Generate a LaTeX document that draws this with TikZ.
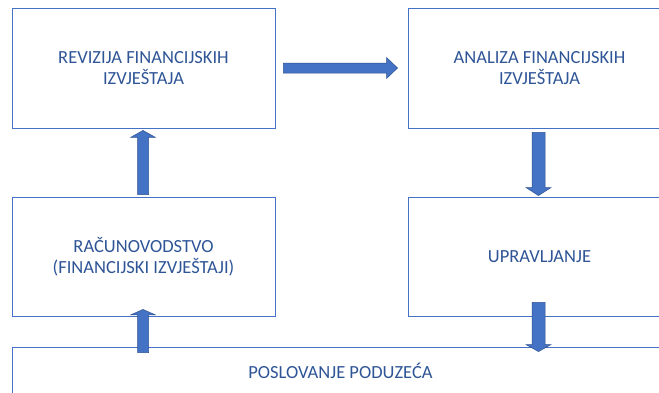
\documentclass[tikz,border=0pt]{standalone}
\usepackage{fontspec}
\setmainfont{Carlito}
\usetikzlibrary{calc}
\definecolor{boxline}{RGB}{68,114,196}
\definecolor{txtblue}{RGB}{47,85,151}
\definecolor{arrfill}{RGB}{68,114,196}
\definecolor{arrline}{RGB}{47,82,143}
\newcommand\blockarr[5]{%
  \path[blockarrow] let \p1=(#1), \p2=(#2), \n1={atan2(\y2-\y1,\x2-\x1)}, \n2={veclen(\x2-\x1,\y2-\y1)} in
   [shift={(\p1)}, rotate=\n1] (0,-#3) -- ({\n2-#5},-#3) -- ({\n2-#5},-#4) -- (\n2,0) -- ({\n2-#5},#4) -- ({\n2-#5},#3) -- (0,#3) -- cycle;}
\begin{document}
\begin{tikzpicture}[x=1pt,y=-1pt,
  box/.style={draw=boxline, line width=0.9pt, fill=white, text=txtblue, align=center,
    font=\fontsize{18.5}{21.5}\selectfont, inner sep=0pt, minimum width=263pt},
  blockarrow/.style={fill=arrfill, draw=arrline, line width=0.5pt}]
\useasboundingbox (0,0) rectangle (659,392);
\clip (0,0) rectangle (659,392);
\fill[white] (0,0) rectangle (659,392);
\node[box, minimum height=120pt] (rev) at (143.5,68) {REVIZIJA FINANCIJSKIH\\IZVJEŠTAJA};
\node[box, minimum height=120pt] (ana) at (539.5,68) {ANALIZA FINANCIJSKIH\\IZVJEŠTAJA};
\node[box, minimum height=119pt] (rac) at (143.5,256.5) {RAČUNOVODSTVO\\(FINANCIJSKI IZVJEŠTAJI)};
\node[box, minimum height=119pt] (upr) at (539.5,256.5) {UPRAVLJANJE};
\node[box, minimum width=657pt, minimum height=47pt] (pos) at (340.5,370.5) {POSLOVANJE PODUZEĆA};
\coordinate (a1s) at ($(rac.north)+(-0.5,-2)$);
\coordinate (a1e) at ($(rev.south)+(-0.5,2)$);
\coordinate (a2s) at ($(rev.east)+(8,0)$);
\coordinate (a2e) at ($(ana.west)+(-10,0)$);
\coordinate (a3s) at ($(ana.south)+(-1,4)$);
\coordinate (a3e) at ($(upr.north)+(-1,-1)$);
\coordinate (a4s) at ($(pos.north)+(-197.5,6)$);
\coordinate (a4e) at ($(rac.south)+(-0.5,-7)$);
\coordinate (a5s) at ($(upr.south)+(-1,-14)$);
\coordinate (a5e) at ($(pos.north)+(198,5)$);
\blockarr{a1s}{a1e}{5.5}{12.5}{7}
\blockarr{a2s}{a2e}{5}{10.5}{11}
\blockarr{a3s}{a3e}{6.5}{12.5}{8}
\blockarr{a4s}{a4e}{5.5}{12.5}{5.5}
\blockarr{a5s}{a5e}{6.5}{12.5}{7}
\end{tikzpicture}
\end{document}
